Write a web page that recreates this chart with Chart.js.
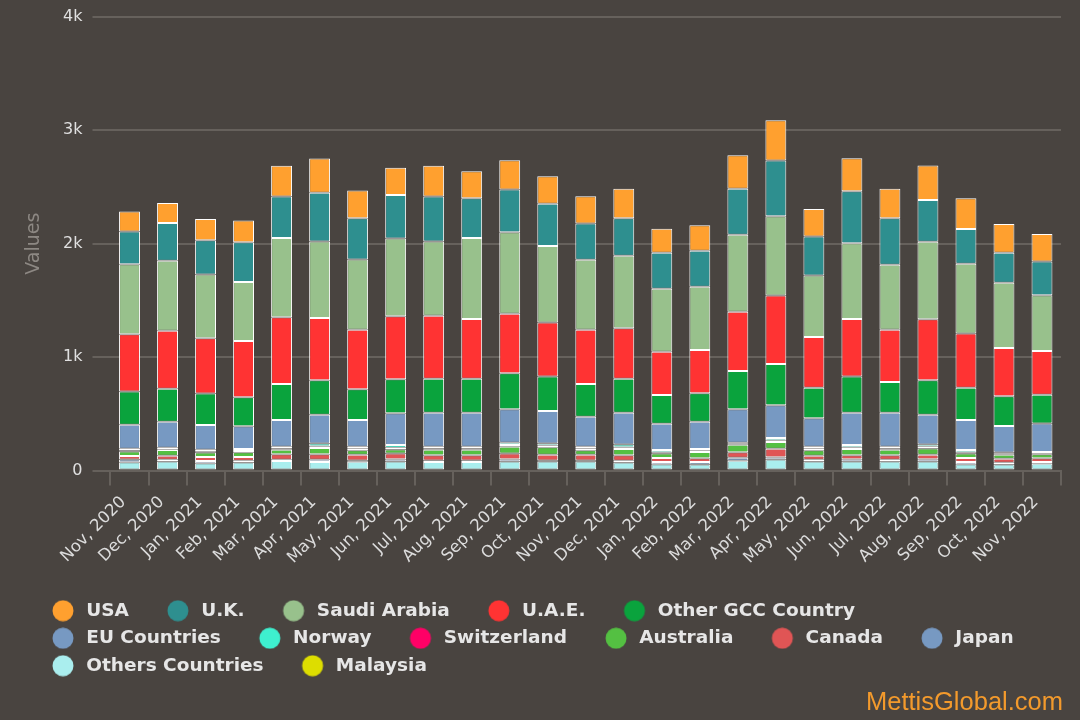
<!DOCTYPE html>
<html><head><meta charset="utf-8">
<script src="https://cdn.jsdelivr.net/npm/chart.js@4.4.1/dist/chart.umd.min.js"></script>
<style>
html,body{margin:0;padding:0;background:#494440;}
#wrap{position:relative;width:1080px;height:720px;background:#494440;}
#c{position:absolute;left:0;top:0;}
#wm{position:absolute;right:17px;top:689px;line-height:25px;font-family:'Liberation Sans',Arial,sans-serif;font-size:25.5px;color:#f39a2c;}
</style></head><body>
<div id="wrap"><canvas id="c" width="1080" height="720" style="width:1080px;height:720px"></canvas><div id="wm">MettisGlobal.com</div></div>
<script>
const months = ["Nov, 2020","Dec, 2020","Jan, 2021","Feb, 2021","Mar, 2021","Apr, 2021","May, 2021","Jun, 2021","Jul, 2021","Aug, 2021","Sep, 2021","Oct, 2021","Nov, 2021","Dec, 2021","Jan, 2022","Feb, 2022","Mar, 2022","Apr, 2022","May, 2022","Jun, 2022","Jul, 2022","Aug, 2022","Sep, 2022","Oct, 2022","Nov, 2022"];
const usa         = [176,176,188,191,271,303,245,241,271,239,259,244,241,260,212,224,297,354,242,291,260,303,270,254,241];
const uk          = [289,333,303,351,365,430,362,383,397,350,377,371,318,329,318,318,404,492,344,459,409,368,307,265,298];
const saudi       = [616,619,560,521,698,674,621,684,654,715,718,675,619,639,554,557,680,698,544,668,574,683,616,574,491];
const uae         = [505,510,488,495,589,548,524,556,554,525,524,477,477,445,382,382,521,603,446,507,459,539,477,427,386];
const otherGcc    = [294,291,277,256,318,304,271,300,300,300,318,303,289,300,254,251,338,365,270,318,271,304,285,262,254];
const euCountries = [211,230,218,200,236,253,236,280,301,301,295,286,265,280,232,241,295,289,251,286,301,262,265,233,250];
const norway      = [15,12,15,18,15,25,18,25,15,15,20,20,18,25,18,15,10,20,18,20,15,20,18,12,12];
const switzerland = [10,8,10,12,10,15,12,15,10,10,15,15,12,15,12,10,8,15,12,15,10,15,12,8,8];
const australia   = [40,50,40,40,40,55,40,35,50,50,60,65,40,55,40,55,65,60,50,55,50,55,40,35,35];
const canada      = [30,35,35,35,50,50,50,50,45,45,50,50,50,50,35,35,50,75,35,35,40,40,35,35,35];
const japan       = [25,15,20,15,10,20,12,20,15,15,20,10,10,15,20,20,25,20,15,20,15,20,20,15,15];
const others      = [72,80,64,70,84,74,77,80,74,74,80,79,79,70,55,54,87,96,79,79,79,79,55,54,59];
const malaysia    = [0,0,0,0,0,0,0,0,0,0,0,0,0,0,0,0,0,0,0,0,0,0,0,0,0];
const yTicks = [0,1000,2000,3000,4000];

// bottom-to-top stacking order
const series = [
  ["Malaysia", malaysia, "#dddd00"],
  ["Others Countries", others, "#aaeeee"],
  ["Japan", japan, "#7799c2"],
  ["Canada", canada, "#e05555"],
  ["Australia", australia, "#54c042"],
  ["Switzerland", switzerland, "#ff0066"],
  ["Norway", norway, "#3ef0cf"],
  ["EU Countries", euCountries, "#7799c2"],
  ["Other GCC Country", otherGcc, "#0aa33d"],
  ["U.A.E.", uae, "#ff3333"],
  ["Saudi Arabia", saudi, "#98c18c"],
  ["U.K.", uk, "#2e8f8f"],
  ["USA", usa, "#ffa02f"]
];

function dot(color){
  const cv = document.createElement('canvas');
  cv.width = 54; cv.height = 22;
  const g = cv.getContext('2d');
  g.fillStyle = color;
  g.beginPath(); g.arc(40, 11, 10.5, 0, Math.PI*2); g.fill();
  return cv;
}

const FONT = "'DejaVu Sans', Verdana, sans-serif";
const GRID = '#66615c';

new Chart(document.getElementById('c'), {
  type: 'bar',
  data: {
    labels: months,
    datasets: series.map(([name, vals, col]) => ({
      label: name, data: vals, backgroundColor: col,
      borderColor: '#ffffff', borderWidth: 1, borderSkipped: false,
      barPercentage: 0.55, categoryPercentage: 1
    }))
  },
  options: {
    responsive: false, animation: false,
    layout: { padding: { left: 14, right: 19, top: 16, bottom: 35 } },
    scales: {
      x: {
        stacked: true,
        afterFit: s => { s.height = 122; },
        grid: { display: true, drawOnChartArea: false, drawTicks: true, tickLength: 15, color: GRID, lineWidth: 2 },
        border: { display: true, color: GRID, width: 2 },
        ticks: { autoSkip: false, maxRotation: 45, minRotation: 45, padding: 7, labelOffset: -6, color: '#dcdcdc', font: { family: FONT, size: 16.5 } }
      },
      y: {
        stacked: true, min: 0, max: 4000,
        afterFit: s => { s.width = 96.5; },
        afterBuildTicks: s => { s.ticks = yTicks.map(v => ({ value: v })); },
        grid: { color: GRID, lineWidth: 2, drawTicks: true, tickLength: 18 },
        border: { display: false },
        title: { display: true, text: 'Values', color: '#8d8883', font: { family: FONT, size: 19 }, padding: { top: 9, bottom: 0 } },
        ticks: { padding: 10, color: '#e0e0e0', font: { family: FONT, size: 16, lineHeight: 0.85 },
          callback: v => v === 0 ? '0' : (v / 1000) + 'k' }
      }
    },
    plugins: {
      tooltip: { enabled: false },
      legend: {
        position: 'bottom', align: 'start', reverse: true,
        labels: {
          usePointStyle: true, pointStyleWidth: 54, padding: 9,
          color: '#e6e6e6', font: { family: FONT, size: 18.5, weight: 'bold' },
          generateLabels(chart) {
            const items = Chart.defaults.plugins.legend.labels.generateLabels(chart);
            items.forEach(it => { it.pointStyle = dot(it.fillStyle); it.lineWidth = 0; it.strokeStyle = 'rgba(0,0,0,0)'; });
            return items;
          }
        }
      }
    }
  }
});
</script>
</body></html>
